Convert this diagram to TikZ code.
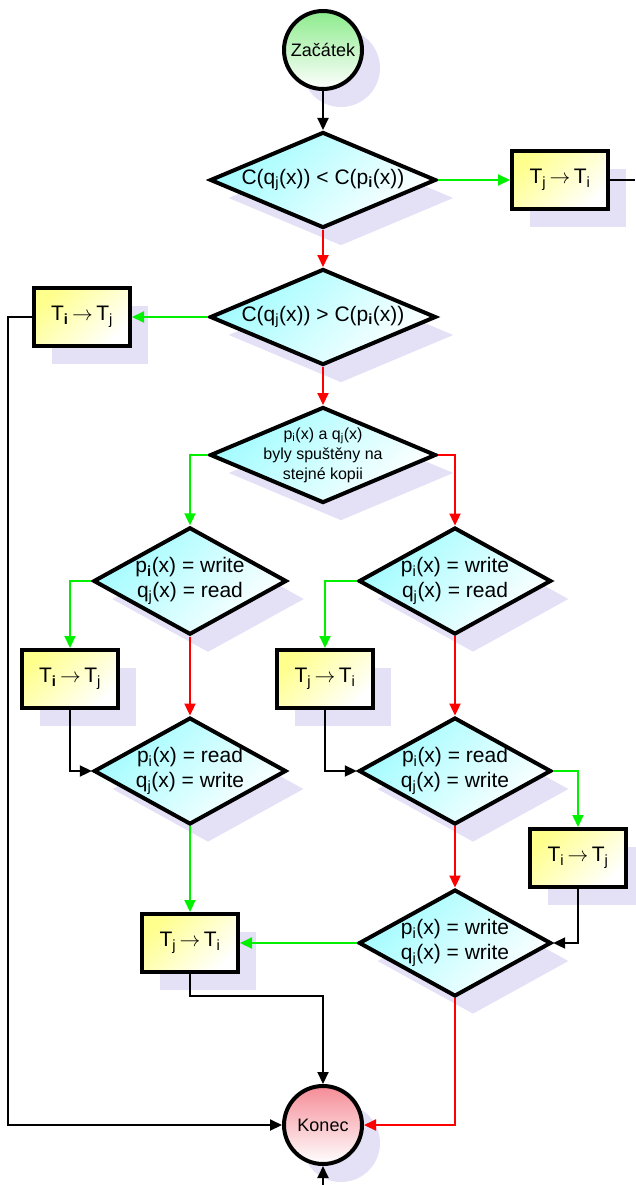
\documentclass[tikz,border=0pt]{standalone}
\usepackage{fontspec}
\setmainfont{Liberation Sans}
\usetikzlibrary{arrows.meta,shapes.geometric,shadows}
\definecolor{dcyan}{RGB}{160,252,255}
\definecolor{byell}{RGB}{255,255,140}
\definecolor{sgreen}{RGB}{140,235,140}
\definecolor{ered}{RGB}{245,140,150}
\definecolor{shadowc}{RGB}{228,224,246}
\definecolor{lgreen}{RGB}{0,240,0}
\definecolor{lred}{RGB}{255,0,0}
\newcommand{\sbs}[1]{\textsubscript{#1}}
\newcommand{\tto}{\,$\rightarrow$\,}

\begin{document}
\begin{tikzpicture}[x=1pt,y=-1pt,>={Triangle[length=12pt,width=11pt]},
  sdw/.style={drop shadow={shadow xshift=18pt,shadow yshift=-18pt,fill=shadowc,opacity=1}},
  ifbox/.style={diamond,draw,line width=4pt,inner sep=0pt,sdw,
    top color=dcyan,bottom color=white,shading angle=45,align=center},
  widebox/.style={ifbox,minimum width=226pt,minimum height=96pt,aspect=2.35},
  tallbox/.style={ifbox,minimum width=190pt,minimum height=106pt,aspect=1.8,
    font=\fontsize{21}{25}\selectfont},
  dobox/.style={rectangle,draw,line width=4pt,minimum width=96pt,minimum height=58pt,sdw,
    top color=byell,bottom color=white,shading angle=45,font=\fontsize{21}{25}\selectfont},
  endbox/.style={circle,draw,line width=4pt,minimum size=78pt,inner sep=0pt,sdw,
    shading angle=45,font=\fontsize{18}{22}\selectfont},
  yesline/.style={lgreen,line width=2pt,->},
  noline/.style={lred,line width=2pt,->},
  blkline/.style={black,line width=2pt,->}]
\useasboundingbox (0,0) rectangle (635,1185);

% start and first tests
\node[endbox,top color=sgreen,bottom color=white] (start) at (323,50) {Začátek};
\node[widebox,font=\fontsize{21}{25}\selectfont] (d1) at (323,180)
  {C(q\sbs{j}(x)) < C(p\sbs{\textbf{i}}(x))};
\node[dobox] (b1) at (560,180) {T\sbs{j}\tto T\sbs{i}};
\node[widebox,font=\fontsize{21}{25}\selectfont] (d2) at (323,317)
  {C(q\sbs{j}(x)) > C(p\sbs{\textbf{i}}(x))};
\node[dobox] (b2) at (82,317) {T\sbs{\textbf{i}}\tto T\sbs{j}};
\node[widebox,inner sep=-8pt,font=\fontsize{16}{20}\selectfont] (d3) at (323,455)
  {p\sbs{i}(x) a q\sbs{j}(x)\\byly spuštěny na\\stejné kopii};

% read/write tests
\node[tallbox] (d4) at (190,581) {p\sbs{\textbf{i}}(x) = write\\q\sbs{j}(x) = read};
\node[tallbox] (d5) at (455,581) {p\sbs{i}(x) = write\\q\sbs{j}(x) = read};
\node[dobox] (b3) at (70,679) {T\sbs{\textbf{i}}\tto T\sbs{j}};
\node[dobox] (b4) at (325,679) {T\sbs{j}\tto T\sbs{i}};
\node[tallbox] (d6) at (190,771) {p\sbs{i}(x) = read\\q\sbs{j}(x) = write};
\node[tallbox] (d7) at (455,771) {p\sbs{i}(x) = read\\q\sbs{j}(x) = write};
\node[dobox] (b5) at (578,858) {T\sbs{i}\tto T\sbs{j}};
\node[tallbox] (d8) at (455,943) {p\sbs{i}(x) = write\\q\sbs{j}(x) = write};
\node[dobox] (b6) at (190,943) {T\sbs{j}\tto T\sbs{i}};
\node[endbox,top color=ered,bottom color=white] (end) at (323,1125) {Konec};

\coordinate (outR) at (635,180);
\coordinate (inB) at (323,1185);

% connectors
\draw[blkline] (start) -- (d1.north);
\draw[yesline] (d1.east) -- (b1.west);
\draw[line width=2pt] (b1.east) -- (outR);
\draw[noline] (d1.south) -- (d2.north);
\draw[yesline] (d2.west) -- (b2.east);
\draw[blkline] (b2.west) -- ++(-24,0) |- (end.west);
\draw[noline] (d2.south) -- (d3.north);
\draw[yesline] (d3.west) -| (d4.north);
\draw[noline] (d3.east) -| (d5.north);
\draw[yesline] (d4.west) -| (b3.north);
\draw[yesline] (d5.west) -| (b4.north);
\draw[noline] (d4.south) -- (d6.north);
\draw[noline] (d5.south) -- (d7.north);
\draw[blkline] (b3.south) |- (d6.west);
\draw[blkline] (b4.south) |- (d7.west);
\draw[yesline] (d7.east) -| (b5.north);
\draw[yesline] (d6.south) -- (b6.north);
\draw[noline] (d7.south) -- (d8.north);
\draw[blkline] (b5.south) |- (d8.east);
\draw[yesline] (d8.west) -- (b6.east);
\draw[blkline] (b6.south) -- ++(0,22) -| (end.north);
\draw[noline] (d8.south) |- (end.east);
\draw[blkline] (inB) -- (end.south);
\end{tikzpicture}
\end{document}
